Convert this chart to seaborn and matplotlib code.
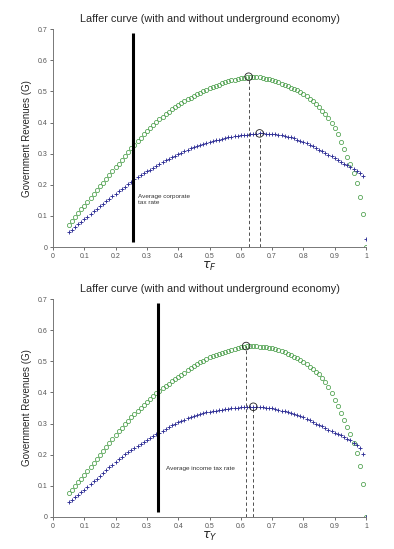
import matplotlib
matplotlib.use("Agg")
import matplotlib.pyplot as plt
import seaborn as sns

# tax rate grid (one marker every 0.01 from 0.05 to 1)
tau = [round(0.05 + 0.01 * i, 2) for i in range(96)]

# top panel: corporate tax rate tau_F
gF_without = [
    .071, .083, .096, .108, .121, .133, .146, .158, .171, .183,
    .195, .207, .220, .232, .244, .256, .268, .281, .293, .305,
    .317, .329, .340, .351, .362, .373, .383, .393, .402, .411,
    .419, .427, .434, .442, .449, .455, .462, .468, .474, .480,
    .486, .491, .496, .501, .506, .510, .514, .518, .522, .526,
    .529, .532, .535, .538, .540, .542, .544, .546, .547, .547,
    .546, .545, .543, .541, .539, .537, .533, .529, .525, .521,
    .517, .512, .507, .503, .498, .493, .485, .477, .468, .459,
    .450, .438, .426, .413, .399, .382, .362, .338, .314, .290,
    .267, .237, .205, .162, .106, .000]
gF_with = [
    .047, .056, .064, .073, .081, .090, .098, .107, .115, .123,
    .131, .139, .147, .155, .163, .171, .179, .187, .194, .202,
    .210, .217, .224, .231, .237, .243, .249, .255, .261, .267,
    .273, .278, .284, .289, .294, .299, .303, .308, .312, .317,
    .321, .324, .328, .331, .335, .338, .340, .343, .345, .348,
    .350, .352, .354, .356, .357, .359, .360, .361, .362, .363,
    .364, .365, .365, .364, .364, .363, .362, .360, .359, .357,
    .355, .352, .349, .345, .342, .338, .333, .328, .323, .318,
    .313, .307, .302, .296, .291, .285, .280, .274, .268, .263,
    .257, .251, .244, .237, .228, .025]

# bottom panel: income tax rate tau_Y
gY_without = [
    .076, .088, .100, .112, .123, .135, .148, .161, .174, .187,
    .200, .213, .226, .238, .251, .263, .275, .287, .298, .309,
    .320, .330, .341, .351, .361, .370, .379, .388, .397, .405,
    .413, .421, .428, .436, .443, .450, .457, .464, .471, .478,
    .485, .491, .497, .502, .508, .513, .517, .520, .524, .527,
    .530, .533, .536, .539, .542, .545, .547, .549, .549, .549,
    .548, .547, .546, .545, .544, .543, .540, .536, .533, .529,
    .525, .520, .515, .510, .505, .499, .491, .483, .475, .467,
    .458, .447, .433, .416, .397, .376, .355, .334, .313, .290,
    .265, .237, .205, .164, .106, .000]
gY_with = [
    .047, .055, .063, .071, .079, .087, .096, .105, .114, .123,
    .132, .141, .150, .159, .168, .177, .185, .193, .201, .208,
    .215, .222, .229, .235, .241, .247, .253, .259, .265, .271,
    .277, .283, .288, .294, .300, .305, .309, .313, .317, .321,
    .324, .327, .330, .333, .336, .338, .340, .342, .344, .345,
    .347, .348, .349, .350, .351, .352, .353, .353, .354, .354,
    .354, .353, .352, .351, .350, .349, .347, .345, .342, .340,
    .337, .334, .330, .327, .323, .320, .315, .310, .305, .300,
    .296, .291, .286, .281, .276, .271, .267, .262, .257, .252,
    .246, .239, .231, .220, .203, .000]

# revenue maximising points (peak circles + dashed drop lines)
peakF_tau = [0.625, 0.66]
peakF_G = [0.547, 0.365]
peakY_tau = [0.617, 0.64]
peakY_G = [0.549, 0.354]

# average observed tax rates (thick black lines)
avg_F = 0.256
avg_Y = 0.336
avg_span = [0.017, 0.688]

titles = ["Laffer curve (with and without underground economy)"] * 2
xlabels = [r"$\tau_F$", r"$\tau_Y$"]
notes = ["Average corporate\ntax rate", "Average income tax rate"]
note_pos = [(0.27, 0.153), (0.36, 0.156)]

sns.set_style("ticks")
plt.rcParams["font.family"] = ["Liberation Sans", "DejaVu Sans"]

green = "#4a9e4a"
blue = "#2f2f96"

fig = plt.figure(figsize=(3.94, 5.49), dpi=100)
ax1 = fig.add_axes([0.1345, 0.550, 0.7945, 0.397])
ax2 = fig.add_axes([0.1345, 0.0583, 0.7945, 0.397])

panels = [
    (ax1, gF_without, gF_with, peakF_tau, peakF_G, avg_F),
    (ax2, gY_without, gY_with, peakY_tau, peakY_G, avg_Y),
]

for i, (ax, g_out, g_in, p_tau, p_G, avg) in enumerate(panels):
    sns.lineplot(x=tau, y=g_out, ax=ax, linestyle="", marker="o", markersize=3.0,
                 markerfacecolor="none", markeredgecolor=green, markeredgewidth=0.55)
    sns.lineplot(x=tau, y=g_in, ax=ax, linestyle="", marker="+", markersize=3.2,
                 color=blue, markeredgecolor=blue, markeredgewidth=0.65)
    # dashed drop lines at the maxima
    for t, g in zip(p_tau, p_G):
        ax.vlines(t, 0, g, colors="#333333", linestyles=(0, (4, 3)), linewidth=0.6)
    sns.scatterplot(x=p_tau, y=p_G, ax=ax, marker="o", s=30, facecolor="none",
                    edgecolor="#222222", linewidth=0.6, zorder=5)
    ax.vlines(avg, avg_span[0], avg_span[1], colors="black", linewidth=2.2)
    ax.text(note_pos[i][0], note_pos[i][1], notes[i], fontsize=4.6, color="#333333",
            va="center", ha="left", linespacing=1.2)

    ax.set_xlim(0, 1)
    ax.set_ylim(0, 0.7)
    ax.set_xticks([0, .1, .2, .3, .4, .5, .6, .7, .8, .9, 1])
    ax.set_xticklabels(["0", "0.1", "0.2", "0.3", "0.4", "0.5", "0.6", "0.7", "0.8", "0.9", "1"])
    ax.set_yticks([0, .1, .2, .3, .4, .5, .6, .7])
    ax.set_yticklabels(["0", "0.1", "0.2", "0.3", "0.4", "0.5", "0.6", "0.7"])
    ax.tick_params(labelsize=5, colors="#555555", length=2.5, width=0.6, pad=1.5)
    ax.set_title(titles[i], fontsize=7.8, pad=5)
    ax.set_xlabel(xlabels[i], fontsize=9, labelpad=0)
    ax.set_ylabel("Government Revenues (G)", fontsize=7, labelpad=4)
    sns.despine(ax=ax)
    for s in ["left", "bottom"]:
        ax.spines[s].set_color("#777777")
        ax.spines[s].set_linewidth(0.7)

fig.savefig("out.png", dpi=100)
